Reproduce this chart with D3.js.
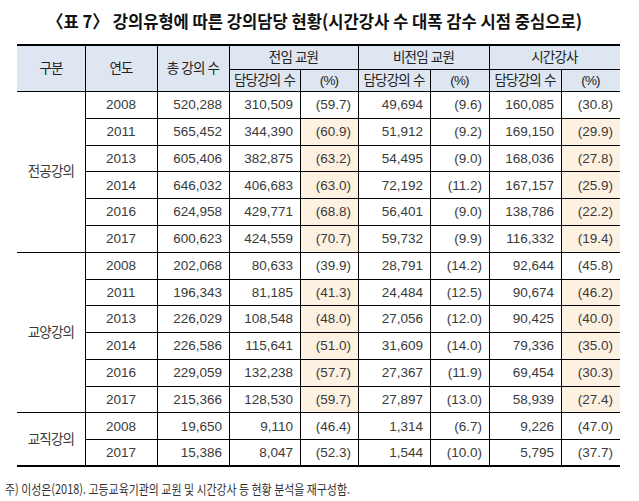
<!DOCTYPE html>
<html><head><meta charset="utf-8">
<script src="https://cdn.jsdelivr.net/npm/d3@7"></script>
<style>
html,body{margin:0;padding:0;background:#fff;}
svg{display:block;}
text{font-family:"Liberation Sans","Noto Sans CJK KR",sans-serif;}
.kr{font-family:"Noto Sans CJK KR","Noto Sans",sans-serif;}
</style></head><body>
<svg id="chart" width="639" height="501"></svg>
<script>
const title = "〈표 7〉 강의유형에 따른 강의담당 현황(시간강사 수 대폭 감수 시점 중심으로)";
const note = "주) 이성은(2018). 고등교육기관의 교원 및 시간강사 등 현황 분석을 재구성함.";
const groups = ["전공강의", "교양강의", "교직강의"];
const groupSizes = [6, 6, 2];
const years = [2008, 2011, 2013, 2014, 2016, 2017, 2008, 2011, 2013, 2014, 2016, 2017, 2008, 2017];
const totalLectures = [520288, 565452, 605406, 646032, 624958, 600623, 202068, 196343, 226029, 226586, 229059, 215366, 19650, 15386];
const fullTimeCount = [310509, 344390, 382875, 406683, 429771, 424559, 80633, 81185, 108548, 115641, 132238, 128530, 9110, 8047];
const fullTimePct = [59.7, 60.9, 63.2, 63.0, 68.8, 70.7, 39.9, 41.3, 48.0, 51.0, 57.7, 59.7, 46.4, 52.3];
const nonFullCount = [49694, 51912, 54495, 72192, 56401, 59732, 28791, 24484, 27056, 31609, 27367, 27897, 1314, 1544];
const nonFullPct = [9.6, 9.2, 9.0, 11.2, 9.0, 9.9, 14.2, 12.5, 12.0, 14.0, 11.9, 13.0, 6.7, 10.0];
const partTimeCount = [160085, 169150, 168036, 167157, 138786, 116332, 92644, 90674, 90425, 79336, 69454, 58939, 9226, 5795];
const partTimePct = [30.8, 29.9, 27.8, 25.9, 22.2, 19.4, 45.8, 46.2, 40.0, 35.0, 30.3, 27.4, 47.0, 37.7];
const highlightRows = [1, 2, 3, 4, 5, 7, 8, 9, 10, 11];
const headTop = ["구분", "연도", "총 강의 수"];
const headGroups = ["전임 교원", "비전임 교원", "시간강사"];
const headSub = ["담당강의 수", "(%)"];

const svg = d3.select("#chart");
const colEdges = [17, 85, 157, 229, 300, 358, 430, 489, 561, 620];
const nRows = years.length;
const yTop = 45, yMid = 69, yHead = 91, yBot = 466;
const y = d3.scaleLinear().domain([0, nRows]).range([yHead, yBot]);
const rowH = y(1) - y(0);
const fmt = d3.format(",");
const pct = v => "(" + d3.format(".1f")(v) + ")";

// header background
svg.append("rect").attr("x", colEdges[0]).attr("y", yTop).attr("width", colEdges[9] - colEdges[0]).attr("height", yHead - yTop).attr("fill", "#dde6f1");

// highlight cells
highlightRows.forEach(r => {
  [4, 8].forEach(c => {
    svg.append("rect").attr("x", colEdges[c]).attr("y", y(r)).attr("width", colEdges[c + 1] - colEdges[c]).attr("height", rowH).attr("fill", "#fdf1e2");
  });
});

// title
svg.append("text").attr("class", "kr").attr("x", 47).attr("y", 28).attr("textLength", 535).attr("lengthAdjust", "spacingAndGlyphs")
  .attr("font-size", 17.5).attr("font-weight", "bold").attr("fill", "#111").text(title);

// header text
const hdr = svg.append("g").attr("class", "kr").attr("font-size", 13.5).attr("fill", "#222").attr("text-anchor", "middle").attr("letter-spacing", -0.8);
headTop.forEach((t, i) => {
  hdr.append("text").attr("x", (colEdges[i] + colEdges[i + 1]) / 2).attr("y", (yTop + yHead) / 2 + 5).text(t);
});
headGroups.forEach((t, g) => {
  const c = 3 + g * 2;
  hdr.append("text").attr("x", (colEdges[c] + colEdges[c + 2]) / 2).attr("y", (yTop + yMid) / 2 + 5).text(t);
  headSub.forEach((s, k) => {
    hdr.append("text").attr("x", (colEdges[c + k] + colEdges[c + k + 1]) / 2).attr("y", (yMid + yHead) / 2 + 5).text(s);
  });
});

// body text
const body = svg.append("g").attr("font-size", 13.5).attr("fill", "#3a3a3a");
let start = 0;
groups.forEach((g, i) => {
  const mid = (y(start) + y(start + groupSizes[i])) / 2;
  body.append("text").attr("class", "kr").attr("x", (colEdges[0] + colEdges[1]) / 2).attr("y", mid + 5)
    .attr("text-anchor", "middle").attr("font-size", 13.5).attr("letter-spacing", -0.8).text(g);
  start += groupSizes[i];
});
const cols = [totalLectures, fullTimeCount, fullTimePct, nonFullCount, nonFullPct, partTimeCount, partTimePct];
years.forEach((yr, r) => {
  const cy = (y(r) + y(r + 1)) / 2 + 4.8;
  body.append("text").attr("x", (colEdges[1] + colEdges[2]) / 2).attr("y", cy).attr("text-anchor", "middle").text(yr);
  cols.forEach((arr, k) => {
    const v = arr[r];
    const isPct = k > 0 && k % 2 === 0;
    body.append("text").attr("x", colEdges[k + 3] - 7).attr("y", cy).attr("text-anchor", "end")
      .text(isPct ? pct(v) : fmt(v));
  });
});

// lines
const lines = svg.append("g").attr("stroke", "#000").attr("shape-rendering", "crispEdges");
const hl = (x1, x2, yy, w) => lines.append("line").attr("x1", x1).attr("x2", x2).attr("y1", yy).attr("y2", yy).attr("stroke-width", w || 1);
const vl = (xx, y1, y2) => lines.append("line").attr("x1", xx).attr("x2", xx).attr("y1", y1).attr("y2", y2).attr("stroke-width", 1);
hl(colEdges[0], colEdges[9], yTop, 1.5);
hl(colEdges[3], colEdges[9], yMid);
hl(colEdges[0], colEdges[9], yHead);
start = 0;
const groupStarts = [];
groupSizes.forEach(s => { groupStarts.push(start); start += s; });
for (let r = 1; r < nRows; r++) {
  const full = groupStarts.includes(r);
  hl(full ? colEdges[0] : colEdges[1], colEdges[9], Math.round(y(r)));
}
hl(colEdges[0], colEdges[9], yBot, 1.5);
[1, 2, 3, 5, 7].forEach(c => vl(colEdges[c], yTop, yBot));
[4, 6, 8].forEach(c => vl(colEdges[c], yMid, yBot));

// note
svg.append("text").attr("class", "kr").attr("x", 5).attr("y", 494).attr("textLength", 345).attr("lengthAdjust", "spacingAndGlyphs")
  .attr("font-size", 13).attr("fill", "#333").text(note);
</script>
</body></html>
